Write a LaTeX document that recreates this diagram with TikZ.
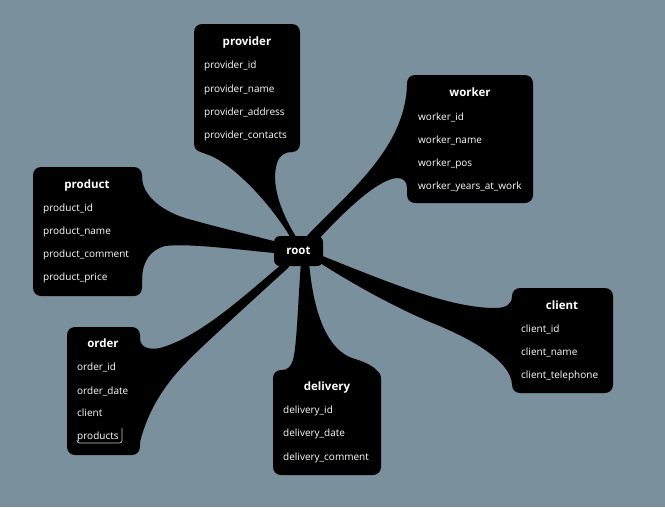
\documentclass[tikz,border=0pt]{standalone}
\usepackage{fontspec}
\setmainfont{Open Sans}
\definecolor{bgc}{RGB}{122,145,157}
\definecolor{hl}{RGB}{200,200,200}
\pgfdeclarelayer{bg}
\pgfdeclarelayer{conn}
\pgfsetlayers{bg,conn,main}
\begin{document}
\begin{tikzpicture}[x=1pt,y=-1pt,
  box/.style={fill=black,rounded corners=8pt,inner sep=0pt,outer sep=0pt},
  ttl/.style={text=white,font=\bfseries\fontsize{11.5}{13}\selectfont,inner sep=0pt,anchor=base},
  item/.style={text=white,font=\fontsize{10}{12}\selectfont,inner sep=0pt,anchor=base west},
  conn/.style={fill=black}]
\begin{pgfonlayer}{bg}
\fill[bgc] (0,0) rectangle (665,507);
\end{pgfonlayer}
\useasboundingbox (0,0) rectangle (665,507);

% root
\node[box,rounded corners=6pt,minimum width=49pt,minimum height=30pt,text=white,font=\bfseries\fontsize{11.5}{13}\selectfont] (root) at (298.5,251) {root};

% provider
\node[box,minimum width=106pt,minimum height=128pt] (provider) at (247,88) {};
\node[ttl] (providerT) at (247,45) {provider};
\node[item] (provider1) at (204,68) {provider\_id};
\node[item] (provider2) at (204,92) {provider\_name};
\node[item] (provider3) at (204,115) {provider\_address};
\node[item] (provider4) at (204,138) {provider\_contacts};

% worker
\node[box,minimum width=126pt,minimum height=128pt] (worker) at (470,139) {};
\node[ttl] (workerT) at (470,96) {worker};
\node[item] (worker1) at (418,120) {worker\_id};
\node[item] (worker2) at (418,143) {worker\_name};
\node[item] (worker3) at (418,166) {worker\_pos};
\node[item] (worker4) at (418,189) {worker\_years\_at\_work};

% product
\node[box,minimum width=109pt,minimum height=129pt] (product) at (87.5,231.5) {};
\node[ttl] (productT) at (87,188) {product};
\node[item] (product1) at (43,211) {product\_id};
\node[item] (product2) at (43,234) {product\_name};
\node[item] (product3) at (43,257) {product\_comment};
\node[item] (product4) at (43,280) {product\_price};

% order
\node[box,minimum width=73pt,minimum height=128pt] (order) at (103.5,391) {};
\node[ttl] (orderT) at (103,347) {order};
\node[item] (order1) at (77,370) {order\_id};
\node[item] (order2) at (77,394) {order\_date};
\node[item] (order3) at (77,416) {client};
\node[item] (order4) at (77,439) {products};
\draw[hl,line width=0.7pt,rounded corners=2.5pt] (77,440) -- (77,443) -- (122,443) -- (122,428);

% delivery
\node[box,minimum width=108pt,minimum height=105pt] (delivery) at (327,422.5) {};
\node[ttl] (deliveryT) at (327,390) {delivery};
\node[item] (delivery1) at (283,413) {delivery\_id};
\node[item] (delivery2) at (283,436) {delivery\_date};
\node[item] (delivery3) at (283,460) {delivery\_comment};

% client
\node[box,minimum width=101pt,minimum height=105pt] (client) at (562.5,340.5) {};
\node[ttl] (clientT) at (562,309) {client};
\node[item] (client1) at (521,332) {client\_id};
\node[item] (client2) at (521,355) {client\_name};
\node[item] (client3) at (521,378) {client\_telephone};

\begin{pgfonlayer}{conn}
% root -> provider
\fill[conn] (root.center) -- (292,240) .. controls (272,205) and (232,162) .. (206,154)
  .. controls (199,152) and (195,149) .. (194,142) -- (provider.center) -- (292,150) -- (292,152)
  .. controls (284,152) and (279,156) .. (277,163) .. controls (272,180) and (276,205) .. (298,240) -- cycle;
% root -> worker
\fill[conn] (root.center) -- (305,238) .. controls (345,195) and (405,150) .. (407,85)
  -- (worker.center) -- (407,188) .. controls (407,181) and (403,178) .. (397,178)
  .. controls (380,179) and (350,205) .. (318,240) -- cycle;
% root -> client
\fill[conn] (root.center) -- (320,255) .. controls (390,283) and (450,308) .. (495,308)
  .. controls (505,308) and (512,305) .. (512,296) -- (client.center) -- (512,384)
  .. controls (510,360) and (470,338) .. (430,322) .. controls (390,305) and (350,282) .. (320,263) -- cycle;
% root -> delivery
\fill[conn] (root.center) -- (301,262) .. controls (298,300) and (297,345) .. (293,360)
  .. controls (291,366) and (288,370) .. (282,370) -- (delivery.center) -- (381,382)
  .. controls (381,370) and (372,364) .. (352,358) .. controls (330,350) and (314,320) .. (309,262) -- cycle;
% root -> order
\fill[conn] (root.center) -- (282,264) .. controls (245,295) and (200,337) .. (160,348)
  .. controls (150,350) and (140,348) .. (140,338) -- (order.center) -- (140,442)
  .. controls (152,395) and (180,368) .. (202,347) .. controls (220,330) and (255,298) .. (288,268) -- cycle;
% root -> product
\fill[conn] (root.center) -- (285,244) .. controls (255,236) and (220,228) .. (185,218)
  .. controls (160,210) and (143,195) .. (142,178) -- (product.center) -- (142,280)
  .. controls (142,262) and (150,250) .. (165,246) .. controls (190,243) and (240,250) .. (285,254) -- cycle;
\end{pgfonlayer}
\end{tikzpicture}
\end{document}
